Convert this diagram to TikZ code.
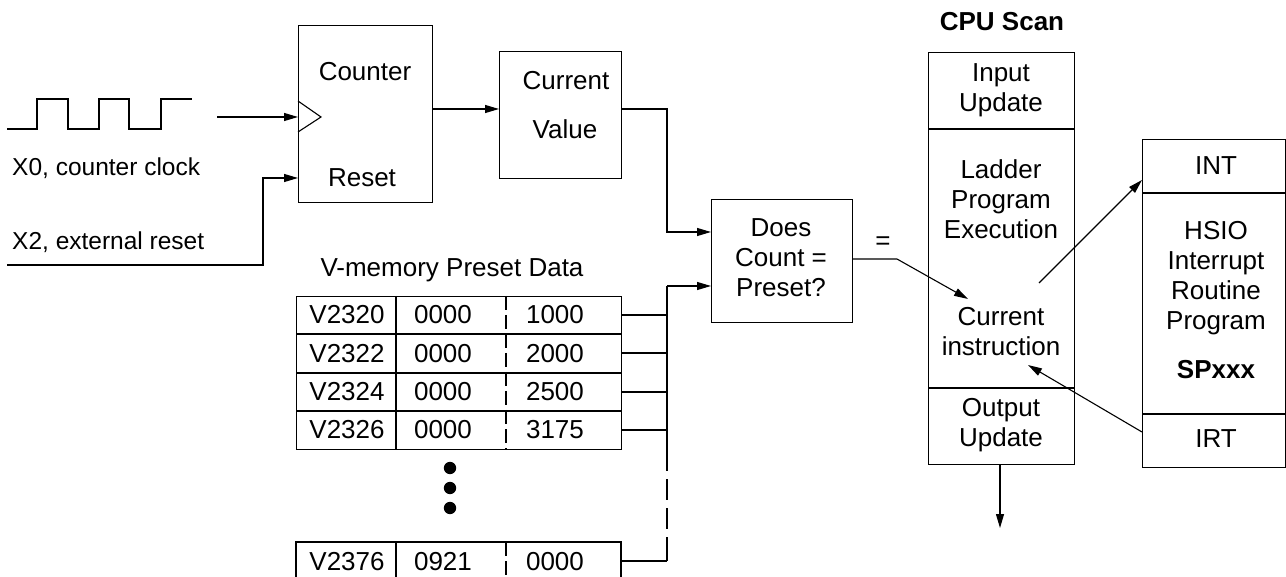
\documentclass[tikz,border=0pt]{standalone}
\usepackage{fontspec}
\setmainfont{Liberation Sans}
\usetikzlibrary{arrows.meta}
\tikzset{
  ln/.style={line width=1.1pt, line join=miter},
  arr/.style={ln, -{Triangle[length=14pt,width=8pt]}},
  box/.style={ln, draw, rectangle, inner sep=0pt, anchor=north west},
  txt/.style={inner sep=0pt, align=center, font=\fontsize{26}{30}\selectfont},
  stxt/.style={txt, font=\fontsize{24.5}{30}\selectfont},
  btxt/.style={txt, font=\fontsize{26}{30}\selectfont\bfseries},
  dashsep/.style={ln, dash pattern=on 14pt off 5pt},
}
\begin{document}
\begin{tikzpicture}[x=1pt,y=-1pt]
\useasboundingbox (0,0) rectangle (1286,577);

% square wave
\draw[ln] (7,129) -- (37,129) -- (37,99) -- (68,99) -- (68,129) -- (99,129) -- (99,99) -- (129,99) -- (129,129) -- (161,129) -- (161,99) -- (192,99);
\node[stxt, anchor=west] (x0) at (12,168) {X0, counter clock};
\node[stxt, anchor=west] (x2) at (12,242) {X2, external reset};

% counter box
\node[box, minimum width=134pt, minimum height=177pt] (counter) at (298,25) {};
\node[txt] (countertxt) at (365,72) {Counter};
\node[txt] (resettxt) at (362,178) {Reset};
\draw[ln] (298,101) -- (321,117) -- (298,132);
\coordinate (clkin) at (217,117);
\coordinate (clkend) at (298,117);
\draw[arr] (clkin) -- (clkend);
\coordinate (rstin) at (7,265);
\coordinate (rstbend) at (263,178);
\coordinate (rstend) at (298,178);
\draw[arr] (rstin) -| (rstbend) -- (rstend);

% current value box
\node[box, minimum width=122pt, minimum height=127pt] (cv) at (499,51) {};
\node[txt] (cvt1) at (566,81) {Current};
\node[txt] (cvt2) at (565,129) {Value};
\coordinate (cntout) at (432,109);
\coordinate (cvin) at (499,109);
\draw[arr] (cntout) -- (cvin);

% does box
\node[box, minimum width=141pt, minimum height=123pt] (does) at (711,199) {};
\node[txt] (doest) at (781,258) {Does\\Count =\\Preset?};
\coordinate (cvout) at (621,109);
\coordinate (doesin1) at (711,232);
\coordinate (bus) at (667,286);
\coordinate (doesin2) at (711,286);
\draw[arr] (cvout) -| (doesin1 -| bus) -- (doesin1);
\draw[arr] (bus) -- (doesin2);

% table
\node[txt] (vmem) at (452,270) {V-memory Preset Data};
\node[box, minimum width=325pt, minimum height=153pt] (table) at (296,296) {};
\foreach \y in {334,373,411} \draw[ln] (296,\y) -- (621,\y);
\draw[ln] (396,296) -- (396,449);
\draw[dashsep] (506,296) -- (506,449);
\foreach \y/\a/\b/\c in {315/V2320/0000/1000, 353.5/V2322/0000/2000, 392/V2324/0000/2500, 430/V2326/0000/3175}{
  \node[txt] at (347,\y) {\a};
  \node[txt] at (443,\y) {\b};
  \node[txt] at (555,\y) {\c};
}
\draw[ln] (296,577) -- (296,542) -- (621,542) -- (621,577);
\draw[ln] (396,542) -- (396,577);
\draw[dashsep] (506,542) -- (506,577);
\node[txt] (r5a) at (347,562) {V2376};
\node[txt] (r5b) at (443,562) {0921};
\node[txt] (r5c) at (555,562) {0000};
\foreach \y in {468,488,508} \fill (450,\y) circle (6.2pt);

% bus connections
\foreach \y in {315,353,392,430,561} \draw[ln] (621,\y) -- (667,\y);
\coordinate (busa) at (667,471);
\coordinate (busb) at (667,537);
\coordinate (busend) at (667,561);
\draw[ln] (bus) -- (busa);
\draw[ln] (667,479) -- (667,500);
\draw[ln] (667,508) -- (667,529);
\draw[ln] (busb) -- (busend);

% CPU scan
\node[btxt] (cpuscan) at (1002,22) {CPU Scan};
\node[box, minimum width=146pt, minimum height=412pt] (cpu) at (928,52) {};
\draw[ln] (928,129) -- (1074,129);
\draw[ln] (928,388) -- (1074,388);
\node[txt] (inp) at (1001,90.5) {Input\\Update};
\node[txt] (lad) at (1001,199) {Ladder\\Program\\Execution};
\node[txt] (cur) at (1001,332) {Current\\instruction};
\node[txt] (outp) at (1001,425.5) {Output\\Update};
\node[txt] (eq) at (883,243) {=};

% interrupt box
\node[box, minimum width=143pt, minimum height=328pt] (intbox) at (1142,139) {};
\draw[ln] (1142,193) -- (1285,193);
\draw[ln] (1142,414) -- (1285,414);
\node[txt] (intt) at (1216,166) {INT};
\node[txt] (hsio) at (1216,278) {HSIO\\Interrupt\\Routine\\Program};
\node[btxt] (spx) at (1216,370) {SPxxx};
\node[txt] (irt) at (1216,439) {IRT};

% arrows around CPU
\coordinate (doesout) at (852,259);
\coordinate (eqbend) at (897,259);
\coordinate (curtip) at (968,299);
\draw[arr] (doesout) -- (eqbend) -- (curtip);
\coordinate (intfrom) at (1039,283);
\coordinate (intto) at (1142,180);
\draw[arr] (intfrom) -- (intto);
\coordinate (irtfrom) at (1142,432);
\coordinate (irtto) at (1028,365);
\draw[arr] (irtfrom) -- (irtto);
\coordinate (cpubot) at (1000,464);
\coordinate (cpuout) at (1000,528);
\draw[arr] (cpubot) -- (cpuout);
\end{tikzpicture}
\end{document}
